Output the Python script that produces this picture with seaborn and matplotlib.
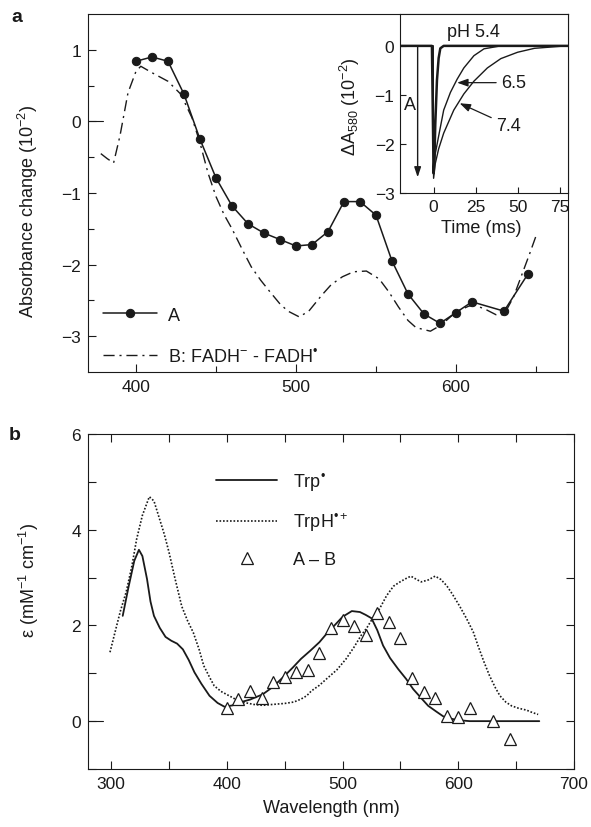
import matplotlib
matplotlib.use("Agg")
import matplotlib.pyplot as plt
import seaborn as sns
import numpy as np

sns.set_style("ticks")
plt.rcParams["font.family"] = ["Liberation Sans", "DejaVu Sans"]
plt.rcParams["mathtext.fontset"] = "custom"
plt.rcParams["mathtext.rm"] = "Liberation Sans"
plt.rcParams["mathtext.it"] = "Liberation Sans:italic"
plt.rcParams["mathtext.bf"] = "Liberation Sans:bold"
plt.rcParams["mathtext.fallback"] = "stixsans"

INK = "#1a1a1a"

# ---------------- panel a data ----------------
a_wl = [400, 410, 420, 430, 440, 450, 460, 470, 480, 490, 500, 510, 520, 530,
        540, 550, 560, 570, 580, 590, 600, 610, 630, 645]
a_val = [0.84, 0.90, 0.84, 0.38, -0.25, -0.79, -1.18, -1.43, -1.56, -1.65, -1.74,
         -1.72, -1.54, -1.12, -1.12, -1.31, -1.95, -2.41, -2.69, -2.82, -2.67,
         -2.52, -2.65, -2.13]

b_wl = [378, 382, 386, 390, 395, 400, 403, 410, 420, 428, 435, 440, 445, 450,
        455, 460, 466, 472, 478, 483, 490, 495, 502, 508, 516, 522, 529, 536,
        544, 552, 558, 564, 570, 575, 584, 591, 597, 602, 608, 612, 618, 625,
        630, 636, 641, 646, 650]
b_val = [-0.45, -0.52, -0.58, -0.20, 0.40, 0.70, 0.77, 0.68, 0.56, 0.38, 0.05,
         -0.30, -0.72, -1.05, -1.30, -1.50, -1.77, -2.03, -2.22, -2.36, -2.55,
         -2.65, -2.73, -2.65, -2.43, -2.28, -2.17, -2.10, -2.09, -2.20, -2.38,
         -2.59, -2.78, -2.88, -2.93, -2.84, -2.72, -2.64, -2.58, -2.57, -2.62,
         -2.70, -2.70, -2.45, -2.15, -1.85, -1.60]

# inset kinetics (time in ms, dA580 in 1e-2)
t_54 = [-20, -1.0, -0.5, 0.0, 0.5, 1.0, 2.0, 3.0, 4.0, 6.0, 80]
v_54 = [0.0, 0.0, -1.3, -2.6, -2.3, -1.6, -0.7, -0.25, -0.05, 0.0, 0.0]
t_65 = [-20, -0.3, 0.0, 1.0, 3.0, 6.0, 10, 14, 18, 24, 30, 40, 80]
v_65 = [0.0, 0.0, -2.5, -2.2, -1.84, -1.31, -0.95, -0.68, -0.45, -0.20, -0.06, 0.0, 0.0]
t_74 = [-20, -0.3, 0.0, 1.0, 3.0, 6.0, 12, 18, 24, 32, 40, 50, 60, 75, 80]
v_74 = [0.0, 0.0, -2.7, -2.4, -2.1, -1.78, -1.31, -0.98, -0.72, -0.45, -0.26,
        -0.13, -0.05, -0.01, 0.0]

# ---------------- panel b data ----------------
trp_wl = [310, 315, 320, 324, 327, 331, 334, 337, 342, 347, 352, 357, 362, 367,
          372, 378, 385, 392, 398, 405, 411, 420, 431, 440, 450, 457, 464, 472,
          480, 487, 493, 500, 508, 515, 520, 525, 530, 535, 541, 548, 555, 561,
          568, 574, 581, 587, 594, 600, 610, 640, 670]
trp_val = [2.2, 2.8, 3.35, 3.58, 3.45, 2.97, 2.5, 2.2, 1.95, 1.76, 1.68, 1.62,
           1.5, 1.28, 1.02, 0.78, 0.53, 0.38, 0.30, 0.33, 0.39, 0.45, 0.56, 0.72,
           0.95, 1.12, 1.30, 1.47, 1.65, 1.85, 2.0, 2.18, 2.3, 2.28, 2.22, 2.15,
           1.9, 1.58, 1.32, 1.09, 0.88, 0.67, 0.48, 0.32, 0.2, 0.1, 0.05, 0.02,
           0.0, 0.0, 0.0]

trph_wl = [299, 304, 308, 313, 318, 322, 327, 333, 337, 341, 346, 350, 355, 361,
           366, 371, 376, 380, 385, 389, 395, 402, 408, 415, 423, 431, 440, 450,
           458, 464, 469, 473, 480, 486, 495, 503, 510, 516, 521, 526, 532, 538,
           544, 549, 554, 559, 564, 568, 574, 580, 585, 590, 595, 601, 607, 613,
           617, 622, 627, 632, 636, 641, 646, 652, 659, 664, 669]
trph_val = [1.44, 1.92, 2.3, 2.7, 3.25, 3.8, 4.3, 4.69, 4.6, 4.29, 3.9, 3.53, 3.0,
            2.4, 2.1, 1.85, 1.5, 1.16, 0.92, 0.74, 0.62, 0.53, 0.45, 0.39, 0.35,
            0.33, 0.35, 0.37, 0.40, 0.46, 0.53, 0.63, 0.75, 0.88, 1.07, 1.3, 1.55,
            1.79, 1.95, 2.15, 2.35, 2.62, 2.82, 2.9, 2.97, 3.03, 2.96, 2.91, 2.95,
            3.03, 2.96, 2.83, 2.65, 2.41, 2.15, 1.86, 1.58, 1.25, 0.95, 0.7, 0.53,
            0.40, 0.32, 0.27, 0.23, 0.18, 0.14]

ab_wl = [400, 410, 420, 430, 440, 450, 460, 470, 480, 490, 500, 510, 520, 530,
         540, 550, 560, 570, 580, 590, 600, 610, 630, 645]
ab_val = [0.28, 0.47, 0.62, 0.48, 0.81, 0.93, 1.02, 1.07, 1.42, 1.95, 2.12, 1.98,
          1.80, 2.27, 2.08, 1.74, 0.90, 0.61, 0.48, 0.10, 0.09, 0.27, 0.01, -0.37]

FS = 13     # labels / legends / annotations
TS = 12.5   # tick labels

fig = plt.figure(figsize=(5.91, 8.28), dpi=100)

W, H = 591.0, 828.0
def box(l, t, r, b):
    return [l / W, 1 - b / H, (r - l) / W, (b - t) / H]

BUL = "\u2022"

# ---------------- panel a ----------------
ax = fig.add_axes(box(88, 15, 568, 373))
sns.lineplot(x=a_wl, y=a_val, ax=ax, estimator=None, sort=False, color=INK,
             lw=1.1, marker="o", markersize=6, markeredgecolor=INK,
             markerfacecolor=INK, label="A")
sns.lineplot(x=b_wl, y=b_val, ax=ax, estimator=None, sort=False, color=INK,
             lw=1.0, linestyle=(0, (8, 3.5, 1.5, 3.5)),
             label="B: FADH$^{-}$ - FADH$^{" + BUL + "}$")
ax.set_xlim(370, 670)
ax.set_ylim(-3.5, 1.5)
ax.set_xticks([400, 500, 600])
ax.set_xticks([450, 550, 650], minor=True)
ax.set_yticks([-3, -2, -1, 0, 1])
ax.set_yticklabels(["\u22123", "\u22122", "\u22121", "0", "1"])
ax.set_yticks([-2.5, -1.5, -0.5, 0.5], minor=True)
ax.tick_params(which="both", direction="in", width=0.8, color=INK,
               labelsize=TS, labelcolor=INK, pad=5)
ax.tick_params(which="major", length=6)
ax.tick_params(which="minor", length=4)
ax.plot([0, 0.031], [0, 0], transform=ax.get_yaxis_transform(), color=INK, lw=0.8)
ax.set_ylabel("Absorbance change (10$^{-2}$)", fontsize=FS, color=INK)
ax.yaxis.set_label_coords(-0.100, 0.45)
ax.set_xlabel("")
for s in ax.spines.values():
    s.set_linewidth(0.8)
    s.set_color(INK)
leg = ax.legend(loc="center left", bbox_to_anchor=(0.031, 0.1), frameon=False,
                fontsize=FS, handlelength=3.0, handletextpad=0.6, labelspacing=1.3,
                borderpad=0, borderaxespad=0, numpoints=1)
for t in leg.get_texts():
    t.set_color(INK)

# ---------------- inset ----------------
ai = fig.add_axes(box(400, 15, 568, 194))
ai.set_facecolor("white")
ai.set_zorder(5)
sns.lineplot(x=t_74, y=v_74, ax=ai, estimator=None, sort=False, color=INK, lw=1.0)
sns.lineplot(x=t_65, y=v_65, ax=ai, estimator=None, sort=False, color=INK, lw=1.0)
sns.lineplot(x=t_54, y=v_54, ax=ai, estimator=None, sort=False, color=INK, lw=1.8)
ai.set_xlim(-20, 80)
ai.set_ylim(-3, 0.65)
ai.set_xticks([0, 25, 50, 75])
ai.set_yticks([-3, -2, -1, 0])
ai.set_yticklabels(["\u22123", "\u22122", "\u22121", "0"])
ai.tick_params(which="both", direction="in", width=0.8, length=4, color=INK,
               labelsize=TS, labelcolor=INK, pad=4)
ai.set_ylabel("\u0394A$_{580}$ (10$^{-2}$)", fontsize=FS, color=INK)
ai.yaxis.set_label_coords(-0.225, 0.486)
ai.set_xlabel("Time (ms)", fontsize=FS, color=INK)
ai.xaxis.set_label_coords(0.485, -0.145)
for s in ai.spines.values():
    s.set_linewidth(0.8)
    s.set_color(INK)
ai.text(24, 0.3, "pH 5.4", fontsize=FS, color=INK, ha="center", va="center")
ai.annotate("", xy=(-9.5, -2.68), xytext=(-9.5, 0.0),
            arrowprops=dict(arrowstyle="-|>,head_length=0.6,head_width=0.2",
                            color=INK, lw=1.0, shrinkA=0, shrinkB=0))
ai.text(-14.0, -1.2, "A", fontsize=FS, color=INK, ha="center", va="center")
ai.annotate("6.5", xy=(14, -0.75), xytext=(40, -0.75), fontsize=FS, color=INK,
            ha="left", va="center",
            arrowprops=dict(arrowstyle="-|>,head_length=0.5,head_width=0.18",
                            color=INK, lw=0.9, shrinkA=1, shrinkB=0))
ai.annotate("7.4", xy=(15.5, -1.17), xytext=(37, -1.62), fontsize=FS, color=INK,
            ha="left", va="center",
            arrowprops=dict(arrowstyle="-|>,head_length=0.5,head_width=0.18",
                            color=INK, lw=0.9, shrinkA=1, shrinkB=0))

# ---------------- panel b ----------------
bx = fig.add_axes(box(88, 435, 574, 770))
sns.lineplot(x=trp_wl, y=trp_val, ax=bx, estimator=None, sort=False, color=INK,
             lw=1.3, label="Trp$^{" + BUL + "}$")
sns.lineplot(x=trph_wl, y=trph_val, ax=bx, estimator=None, sort=False, color=INK,
             lw=1.2, linestyle=(0, (1.0, 1.1)), label="TrpH$^{" + BUL + "+}$")
sns.lineplot(x=ab_wl, y=ab_val, ax=bx, estimator=None, sort=False, color=INK,
             linestyle="", marker="^", markersize=8, markerfacecolor="white",
             markeredgecolor=INK, markeredgewidth=0.9, label="A \u2013 B")
bx.set_xlim(280, 700)
bx.set_ylim(-1, 6)
bx.set_xticks([300, 400, 500, 600, 700])
bx.set_xticks([350, 450, 550, 650], minor=True)
bx.set_yticks([0, 2, 4, 6])
bx.set_yticks([-1, 1, 3, 5], minor=True)
bx.tick_params(which="both", direction="in", width=0.8, color=INK, top=True,
               right=True, labelsize=TS, labelcolor=INK, pad=5)
bx.tick_params(which="major", length=6)
bx.tick_params(which="minor", length=6)
bx.plot([0, 0.031], [0, 0], transform=bx.get_yaxis_transform(), color=INK, lw=0.8)
bx.set_ylabel("\u03b5 (mM$^{-1}$ cm$^{-1}$)", fontsize=FS, color=INK)
bx.yaxis.set_label_coords(-0.097, 0.567)
bx.set_xlabel("Wavelength (nm)", fontsize=FS, color=INK)
bx.xaxis.set_label_coords(0.5, -0.09)
for s in bx.spines.values():
    s.set_linewidth(0.8)
    s.set_color(INK)
leg = bx.legend(loc="center left", bbox_to_anchor=(0.263, 0.746), frameon=False,
                fontsize=FS, handlelength=3.4, handletextpad=0.9, labelspacing=1.0,
                borderpad=0, borderaxespad=0, numpoints=1)
for t in leg.get_texts():
    t.set_color(INK)

fig.text(11 / W, 1 - 18 / H, "a", fontsize=14, fontweight="bold", color=INK,
         ha="left", va="center")
fig.text(9 / W, 1 - 436 / H, "b", fontsize=14, fontweight="bold", color=INK,
         ha="left", va="center")

fig.savefig("out.png", dpi=100, facecolor="white")
